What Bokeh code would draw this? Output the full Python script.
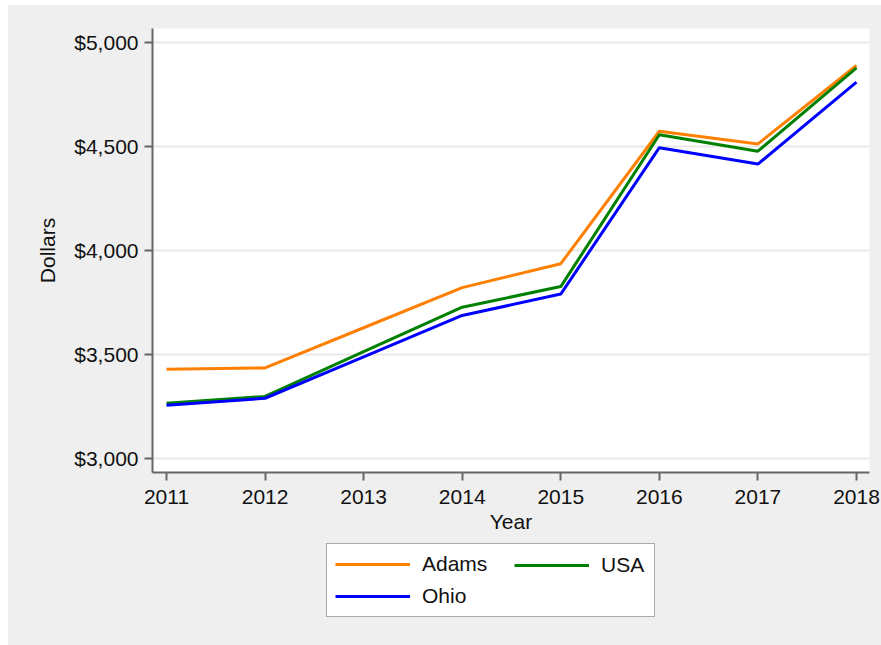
from bokeh.plotting import figure
from bokeh.models import (ColumnDataSource, FixedTicker, NumeralTickFormatter,
                          Legend, LegendItem, Range1d, Spacer)
from bokeh.layouts import row, column
from bokeh.embed import file_html
from bokeh.resources import INLINE

years = [2011, 2012, 2013, 2014, 2015, 2016, 2017, 2018]
adams = [3428, 3434, 3627, 3820, 3935, 4572, 4511, 4888]
usa = [3264, 3297, 3512, 3726, 3825, 4555, 4476, 4877]
ohio = [3254, 3288, 3487, 3686, 3789, 4493, 4414, 4808]
series_names = ["Adams", "USA", "Ohio"]
series_colors = ["#ff8000", "#008000", "#0000ff"]
y_ticks = [3000, 3500, 4000, 4500, 5000]
x_ticks = years

FONT = "Liberation Sans"
FS = "21px"
BG = "#efefef"
TXT = "#111111"

src = ColumnDataSource(dict(year=years, Adams=adams, USA=usa, Ohio=ohio))

# main chart
p = figure(width=873, height=535, output_backend="svg", toolbar_location=None,
           x_range=Range1d(2010.858, 2018.132), y_range=Range1d(2931, 5066),
           min_border_left=144, min_border_right=12, min_border_top=23,
           min_border_bottom=68)
p.border_fill_color = BG
p.background_fill_color = "white"
p.outline_line_color = None

for name, col in zip(series_names, series_colors):
    p.line("year", name, source=src, line_color=col, line_width=3)

p.xgrid.grid_line_color = None
p.ygrid.grid_line_color = "#e8e8e8"
p.ygrid.grid_line_width = 2

p.xaxis.ticker = FixedTicker(ticks=x_ticks)
p.yaxis.ticker = FixedTicker(ticks=y_ticks)
p.yaxis.formatter = NumeralTickFormatter(format="$0,0")

for ax in (p.xaxis[0], p.yaxis[0]):
    ax.axis_line_color = "#666666"
    ax.axis_line_width = 2
    ax.major_tick_line_color = "#666666"
    ax.major_tick_line_width = 2
    ax.major_tick_in = 0
    ax.major_tick_out = 8
    ax.minor_tick_line_color = None
    ax.major_label_text_font = FONT
    ax.major_label_text_font_size = FS
    ax.major_label_text_color = TXT
    ax.axis_label_text_font = FONT
    ax.axis_label_text_font_size = FS
    ax.axis_label_text_font_style = "normal"
    ax.axis_label_text_color = TXT

p.xaxis.axis_label = "Year"
p.yaxis.axis_label = "Dollars"
p.xaxis.major_label_standoff = 9
p.xaxis.axis_label_standoff = 3
p.yaxis.major_label_standoff = 6
p.yaxis.axis_label_standoff = 12

# legend strip (same series, drawn off-view so only the legend shows)
p2 = figure(width=873, height=105, output_backend="svg", toolbar_location=None,
            x_axis_type=None, y_axis_type=None,
            x_range=Range1d(0, 1), y_range=Range1d(0, 1),
            min_border_left=144, min_border_right=12, min_border_top=0,
            min_border_bottom=0)
p2.border_fill_color = BG
p2.background_fill_color = None
p2.outline_line_color = None

rs = {}
for name, col in zip(series_names, series_colors):
    rs[name] = p2.line("year", name, source=src, line_color=col, line_width=3)

common = dict(glyph_width=75, glyph_height=22, label_height=22,
              label_standoff=12, spacing=8, padding=8, margin=0,
              label_text_font=FONT, label_text_font_size=FS,
              label_text_color=TXT)

# left column (with the surrounding box)
leg1 = Legend(items=[LegendItem(label=n, renderers=[rs[n]]) for n in ("Adams", "Ohio")],
              orientation="vertical", location=(174, 28), label_width=224,
              border_line_color="#555555", border_line_width=1.5,
              background_fill_color="white", background_fill_alpha=1.0,
              **common)
# right column
leg2 = Legend(items=[LegendItem(label=n, renderers=[rs[n]]) for n in ("USA",)],
              orientation="vertical", location=(362, 68), label_width=0,
              border_line_color=None, background_fill_alpha=0.0,
              **common)
p2.add_layout(leg1, "center")
p2.add_layout(leg2, "center")

inner = column(p, p2, styles={"background-color": BG})
layout = column(Spacer(height=5), row(Spacer(width=8), inner))
open("out.html", "w").write(file_html(layout, INLINE))
